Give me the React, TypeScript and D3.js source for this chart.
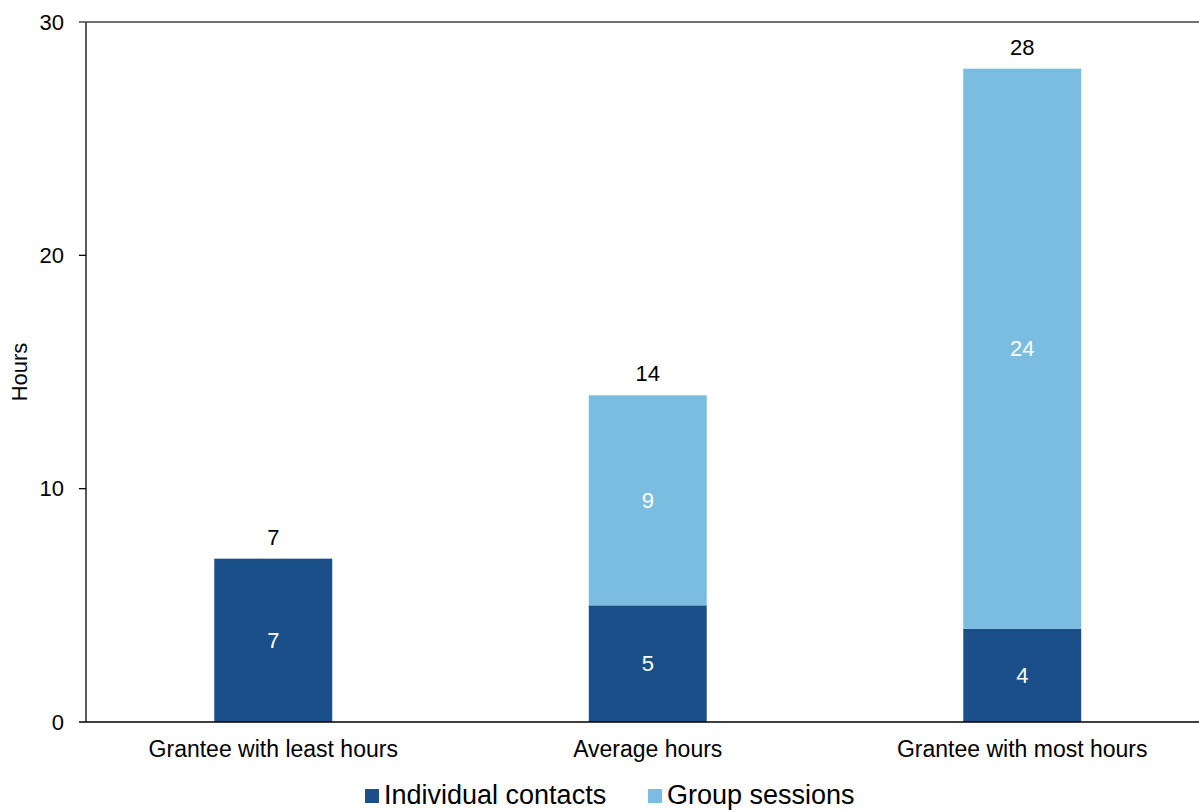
import { useEffect, useRef } from "react";
import * as d3 from "d3";

const CATEGORIES = ["Grantee with least hours", "Average hours", "Grantee with most hours"];
const INDIVIDUAL = [7, 5, 4];
const GROUP = [0, 9, 24];
const TOTALS = [7, 14, 28];
const Y_TICKS = [0, 10, 20, 30];
const SERIES_NAMES = ["Individual contacts", "Group sessions"];

const W = 1199;
const H = 810;
const M = { top: 22, left: 86, bottom: 88 };
const DARK = "#1b4f89";
const LIGHT = "#7abde0";
const FONT = "'Liberation Sans', Arial, sans-serif";

export default function App() {
  const ref = useRef<SVGSVGElement>(null);

  useEffect(() => {
    document.body.style.margin = "0";
    const svg = d3.select(ref.current);
    svg.selectAll("*").remove();

    const x = d3
      .scaleBand<string>()
      .domain(CATEGORIES)
      .range([M.left, M.left + 3 * 374.5])
      .paddingInner(0.685)
      .paddingOuter(0.3425);
    const y = d3.scaleLinear().domain([0, 30]).range([H - M.bottom, M.top]);

    const rows = CATEGORIES.map((c, i) => ({ c, ind: INDIVIDUAL[i], grp: GROUP[i], tot: TOTALS[i] }));

    // bars
    const g = svg.append("g");
    g.selectAll("rect.ind")
      .data(rows)
      .join("rect")
      .attr("class", "ind")
      .attr("x", (d) => x(d.c)!)
      .attr("width", x.bandwidth())
      .attr("y", (d) => y(d.ind))
      .attr("height", (d) => y(0) - y(d.ind))
      .attr("fill", DARK);
    g.selectAll("rect.grp")
      .data(rows.filter((d) => d.grp > 0))
      .join("rect")
      .attr("class", "grp")
      .attr("x", (d) => x(d.c)!)
      .attr("width", x.bandwidth())
      .attr("y", (d) => y(d.ind + d.grp))
      .attr("height", (d) => y(d.ind) - y(d.ind + d.grp))
      .attr("fill", LIGHT);

    // inner labels
    const lab = svg.append("g").attr("font-family", FONT).attr("font-size", 22).attr("text-anchor", "middle");
    lab.selectAll("text.il")
      .data(rows)
      .join("text")
      .attr("x", (d) => x(d.c)! + x.bandwidth() / 2)
      .attr("y", (d) => y(d.ind / 2))
      .attr("dy", "0.35em")
      .attr("fill", "#fff")
      .text((d) => d.ind);
    lab.selectAll("text.gl")
      .data(rows.filter((d) => d.grp > 0))
      .join("text")
      .attr("x", (d) => x(d.c)! + x.bandwidth() / 2)
      .attr("y", (d) => y(d.ind + d.grp / 2))
      .attr("dy", "0.35em")
      .attr("fill", "#fff")
      .text((d) => d.grp);
    lab.selectAll("text.tl")
      .data(rows)
      .join("text")
      .attr("x", (d) => x(d.c)! + x.bandwidth() / 2)
      .attr("y", (d) => y(d.tot) - 14)
      .attr("fill", "#000")
      .text((d) => d.tot);

    // axes
    const ax = svg.append("g");
    ax.append("line")
      .attr("x1", M.left).attr("x2", M.left)
      .attr("y1", y(30)).attr("y2", y(0))
      .attr("stroke", "#000").attr("stroke-width", 1.3);
    ax.selectAll("line.tick")
      .data(Y_TICKS)
      .join("line")
      .attr("x1", M.left - 7).attr("x2", (d) => (d === 0 || d === 30 ? W : M.left))
      .attr("y1", (d) => y(d)).attr("y2", (d) => y(d))
      .attr("stroke", (d) => (d === 30 ? "#444" : "#000"))
      .attr("stroke-width", 1.3);
    ax.selectAll("text.yt")
      .data(Y_TICKS)
      .join("text")
      .attr("x", M.left - 22)
      .attr("y", (d) => y(d))
      .attr("dy", "0.35em")
      .attr("text-anchor", "end")
      .attr("font-family", FONT)
      .attr("font-size", 22)
      .text((d) => d);
    ax.selectAll("text.xt")
      .data(CATEGORIES)
      .join("text")
      .attr("x", (d) => x(d)! + x.bandwidth() / 2)
      .attr("y", y(0) + 35)
      .attr("text-anchor", "middle")
      .attr("font-family", FONT)
      .attr("font-size", 23)
      .text((d) => d);
    ax.append("text")
      .attr("transform", `translate(27,${(y(0) + y(30)) / 2}) rotate(-90)`)
      .attr("text-anchor", "middle")
      .attr("font-family", FONT)
      .attr("font-size", 22)
      .text("Hours");

    // legend
    const legX = [365, 648];
    const leg = svg.append("g").attr("font-family", FONT).attr("font-size", 27);
    SERIES_NAMES.forEach((name, i) => {
      leg.append("rect")
        .attr("x", legX[i]).attr("y", 789)
        .attr("width", 14).attr("height", 14)
        .attr("fill", i === 0 ? DARK : LIGHT);
      leg.append("text")
        .attr("x", legX[i] + 19).attr("y", 804)
        .text(name);
    });
  }, []);

  return <svg ref={ref} width={W} height={H} style={{ display: "block" }} />;
}
